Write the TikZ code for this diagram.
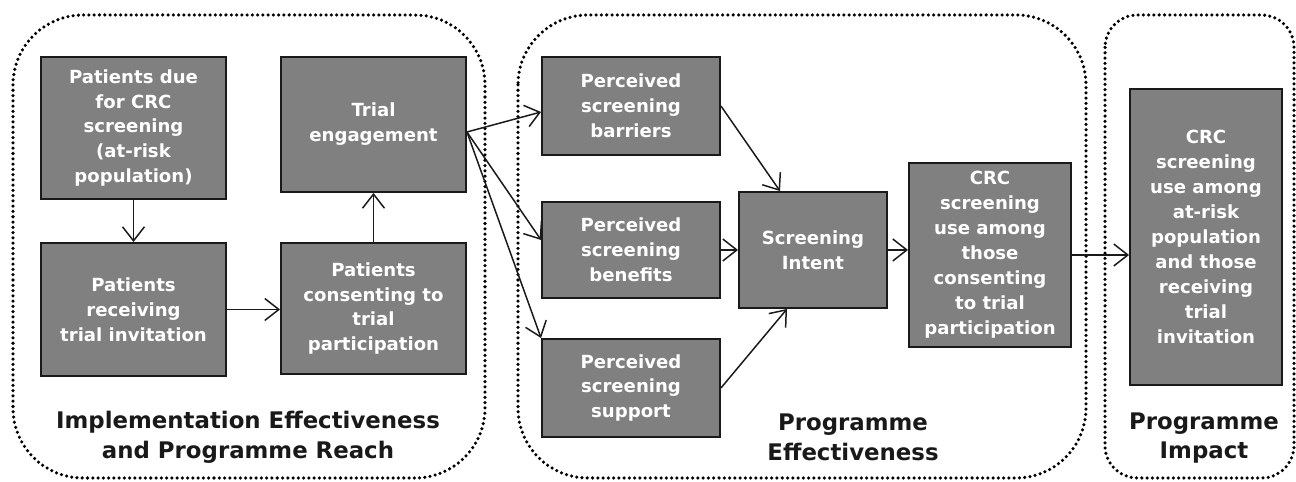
\documentclass[tikz,border=0pt]{standalone}
\usepackage{fontspec}
\setmainfont{DejaVu Sans}
\usetikzlibrary{arrows.meta,calc}
\definecolor{boxgray}{HTML}{808080}
\definecolor{edgecol}{HTML}{1A1A1A}
\begin{document}
\begin{tikzpicture}[x=0.02cm,y=-0.02cm,
  box/.style={draw=edgecol, line width=1.1pt, fill=boxgray, text=white,
    font=\bfseries\fontsize{10.3}{14.2}\selectfont, align=center, inner sep=0pt},
  conn/.style={draw=edgecol, line width=0.85pt, -{Straight Barb[length=8pt,width=12.5pt]}},
  container/.style={draw=black, line width=2pt, dash pattern=on 0pt off 3pt, line cap=round},
  heading/.style={font=\bfseries\fontsize{13}{17}\selectfont, align=center, text=black!90}]
\useasboundingbox (0,0) rectangle (1296,482);
% containers
\draw[container, rounded corners=1.4cm] (13,15) rectangle (485,478);
\draw[container, rounded corners=1.4cm] (518,15) rectangle (1086,478);
\draw[container, rounded corners=0.65cm] (1105,15) rectangle (1294,478);
% boxes
\node[box, minimum width=3.70cm, minimum height=2.84cm] (A) at (133.5,128) {Patients due\\for CRC\\screening\\(at-risk\\population)};
\node[box, minimum width=3.70cm, minimum height=2.66cm] (B) at (133.5,309.5) {Patients\\receiving\\trial invitation};
\node[box, minimum width=3.70cm, minimum height=2.70cm] (C) at (373.5,124.5) {Trial\\engagement};
\node[box, minimum width=3.70cm, minimum height=2.62cm] (D) at (373.5,308.5) {Patients\\consenting to\\trial\\participation};
\node[box, minimum width=3.56cm, minimum height=1.96cm] (E) at (631,106) {Perceived\\screening\\barriers};
\node[box, minimum width=3.56cm, minimum height=1.92cm] (F) at (631,250) {Perceived\\screening\\benefits};
\node[box, minimum width=3.56cm, minimum height=1.96cm] (G) at (631,388) {Perceived\\screening\\support};
\node[box, minimum width=2.96cm, minimum height=2.32cm] (H) at (813,250) {Screening\\Intent};
\node[box, minimum width=3.24cm, minimum height=3.68cm] (I) at (990,255) {CRC\\screening\\use among\\those\\consenting\\to trial\\participation};
\node[box, minimum width=3.04cm, minimum height=5.92cm] (J) at (1206,237) {CRC\\screening\\use among\\at-risk\\population\\and those\\receiving\\trial\\invitation};
% headings
\node[heading] (h1) at (248,437) {Implementation Effectiveness\\and Programme Reach};
\node[heading] (h2) at (853,437) {Programme\\Effectiveness};
\node[heading] (h3) at (1204,438) {Programme\\Impact};
% connectors
\draw[conn] (A.south) -- (B.north);
\draw[conn] (B.east) -- (B.east -| D.west);
\draw[conn] (D.north) -- (C.south);
\coordinate (cout) at ([yshift=-0.15cm]C.east);
\draw[conn] (cout) -- ([yshift=-0.12cm]E.west);
\draw[conn] (cout) -- ([yshift=0.2cm]F.west);
\draw[conn] (cout) -- (G.north west);
\draw[conn] (E.east) -- ([xshift=-0.66cm]H.north);
\draw[conn] (F.east) -- (H.west);
\draw[conn] (G.east) -- ([xshift=-0.52cm]H.south);
\draw[conn] (H.east) -- (H.east -| I.west);
\draw[conn] (I.east) -- (I.east -| J.west);
\end{tikzpicture}
\end{document}
